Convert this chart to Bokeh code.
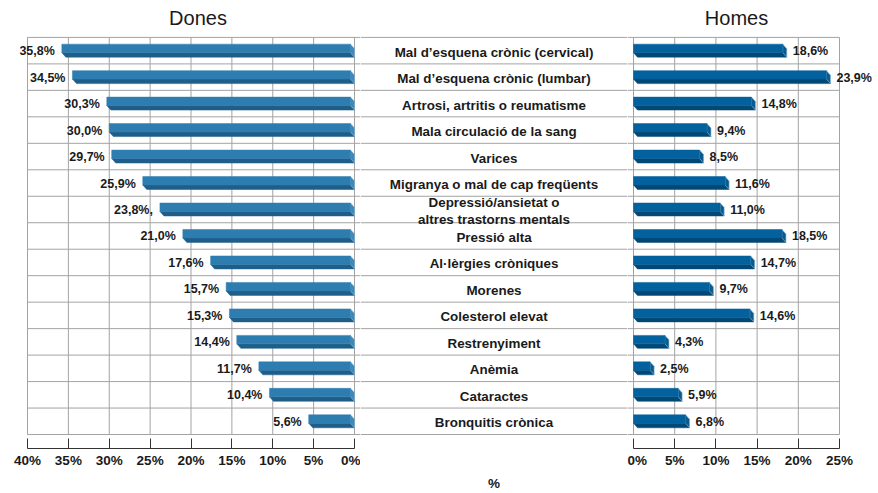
from bokeh.plotting import figure
from bokeh.models import Range1d, FixedTicker, PrintfTickFormatter
from bokeh.layouts import row
from bokeh.core.properties import value
from bokeh.embed import file_html
from bokeh.resources import INLINE

# ---------------- data ----------------
categories = [
    "Mal d’esquena crònic (cervical)",
    "Mal d’esquena crònic (lumbar)",
    "Artrosi, artritis o reumatisme",
    "Mala circulació de la sang",
    "Varices",
    "Migranya o mal de cap freqüents",
    "Depressió/ansietat o\naltres trastorns mentals",
    "Pressió alta",
    "Al·lèrgies cròniques",
    "Morenes",
    "Colesterol elevat",
    "Restrenyiment",
    "Anèmia",
    "Cataractes",
    "Bronquitis crònica",
]
dones = [35.8, 34.5, 30.3, 30.0, 29.7, 25.9, 23.8, 21.0, 17.6, 15.7, 15.3, 14.4, 11.7, 10.4, 5.6]
homes = [18.6, 23.9, 14.8, 9.4, 8.5, 11.6, 11.0, 18.5, 14.7, 9.7, 14.6, 4.3, 2.5, 5.9, 6.8]
dones_labels = ["35,8%", "34,5%", "30,3%", "30,0%", "29,7%", "25,9%", "23,8%,", "21,0%",
                "17,6%", "15,7%", "15,3%", "14,4%", "11,7%", "10,4%", "5,6%"]
homes_labels = ["18,6%", "23,9%", "14,8%", "9,4%", "8,5%", "11,6%", "11,0%", "18,5%",
                "14,7%", "9,7%", "14,6%", "4,3%", "2,5%", "5,9%", "6,8%"]
dones_ticks = [0, 5, 10, 15, 20, 25, 30, 35, 40]
homes_ticks = [0, 5, 10, 15, 20, 25]
title_left = "Dones"
title_right = "Homes"
axis_unit = "%"

# ---------------- style / geometry ----------------
FONT = "Liberation Sans"
TXT = "#1a1a1a"
GRID = "#a3a3a3"
ROW_PX = 26.533
UY = 1.0 / ROW_PX
H = 493
BOTTOM = 44
Y_TOP = -37 * UY                      # frame top (rows), row 0 starts 37px below
Y_BOT = Y_TOP + (H - BOTTOM) * UY     # frame bottom

n = len(categories)
centers = [i + 0.5 for i in range(n)]
bounds_rows = list(range(n + 1))


def base_fig(width, xr):
    p = figure(width=width, height=H, x_range=xr, y_range=Range1d(Y_BOT, Y_TOP),
               output_backend="svg", toolbar_location=None,
               x_axis_location="below", y_axis_location=None,
               min_border_left=0, min_border_right=0, min_border_top=0,
               min_border_bottom=BOTTOM)
    p.outline_line_color = None
    p.xgrid.visible = False
    p.ygrid.visible = False
    p.background_fill_color = "white"
    p.border_fill_color = "white"
    return p


def style_axis(p, ticks, bnds):
    ax = p.xaxis[0]
    ax.ticker = FixedTicker(ticks=ticks)
    ax.formatter = PrintfTickFormatter(format="%d%%")
    ax.bounds = bnds
    ax.major_tick_in = 10
    ax.major_tick_out = 0
    ax.minor_tick_line_color = None
    ax.axis_line_color = "#333333"
    ax.major_tick_line_color = "#333333"
    ax.major_label_text_font = FONT
    ax.major_label_text_font_style = "bold"
    ax.major_label_text_font_size = "13.5px"
    ax.major_label_text_color = TXT
    ax.major_label_standoff = 4


def panel(width, xr, kx, ticks, vals, labels, title, reverse, title_dx):
    ux = 1.0 / kx
    p = base_fig(width, xr)
    style_axis(p, ticks, (min(ticks), max(ticks)))
    vmax = max(ticks)
    edge = xr.end if reverse else xr.start
    # row separators
    p.segment(x0=[edge] * len(bounds_rows), x1=[vmax] * len(bounds_rows),
              y0=bounds_rows, y1=bounds_rows, line_color=GRID, line_width=1)
    # vertical grid
    p.segment(x0=ticks, x1=ticks, y0=[0] * len(ticks), y1=[n] * len(ticks),
              line_color=GRID, line_width=1)
    d = 4 * ux
    if reverse:
        face_c, bot_c, side_c = "#2E7DB0", "#1F5E88", "#3F88BA"
        f_l = vals
        f_r = [d] * n
        side_xs = [[d, 0, 0, d] for v in vals]
        bot_xs = [[v, d, 0, v - d] for v in vals]
        lab_x = [v + 7 * ux for v in vals]
        align = "right"
    else:
        face_c, bot_c, side_c = "#03619D", "#024874", "#0B5A8E"
        f_l = [0] * n
        f_r = [v - d for v in vals]
        side_xs = [[v - d, v, v, v - d] for v in vals]
        bot_xs = [[0, v - d, v, d] for v in vals]
        lab_x = [v + 6 * ux for v in vals]
        align = "left"
    side_ys = [[c - 6.5 * UY, c - 2 * UY, c + 6.5 * UY, c + 2 * UY] for c in centers]
    bot_ys = [[c + 2 * UY, c + 2 * UY, c + 6.5 * UY, c + 6.5 * UY] for c in centers]
    p.patches(xs=bot_xs, ys=bot_ys, fill_color=bot_c, line_color=bot_c, line_width=0.5)
    p.patches(xs=side_xs, ys=side_ys, fill_color=side_c, line_color="#7FB0D4", line_width=0.6)
    p.quad(left=f_l, right=f_r, top=[c - 6.5 * UY for c in centers],
           bottom=[c + 2 * UY for c in centers], fill_color=face_c, line_color=face_c,
           line_width=0.5)
    p.text(x=lab_x, y=[c + 0.5 * UY for c in centers], text=labels,
           text_align=align, text_baseline="middle", text_font=value(FONT),
           text_font_style="bold", text_font_size="12.5px", text_color=TXT)
    p.text(x=[vmax / 2 + title_dx * ux], y=[-19 * UY], text=[title], text_align="center",
           text_baseline="middle", text_font=value(FONT), text_font_size="20px",
           text_color=TXT)
    return p


KL = 327 / 40.0
KR = 206 / 25.0
WL, WM, WR = 360, 267, 251
xl0 = 40 + 27 / KL
xr_left = Range1d(xl0, xl0 - WL / KL)
xr0 = -6 / KR
xr_right = Range1d(xr0, xr0 + WR / KR)

pL = panel(WL, xr_left, KL, dones_ticks, dones, dones_labels, title_left, True, -7)
pR = panel(WR, xr_right, KR, homes_ticks, homes, homes_labels, title_right, False, 0)

pM = base_fig(WM, Range1d(0, 1))
axm = pM.xaxis[0]
axm.ticker = FixedTicker(ticks=[])
axm.axis_line_color = None
axm.major_tick_line_color = None
axm.minor_tick_line_color = None
axm.major_label_standoff = 0
axm.axis_label = axis_unit
axm.axis_label_standoff = 27
axm.axis_label_text_font = FONT
axm.axis_label_text_font_style = "bold"
axm.axis_label_text_font_size = "13.5px"
axm.axis_label_text_color = TXT
pM.segment(x0=[0] * len(bounds_rows), x1=[1] * len(bounds_rows), y0=bounds_rows,
           y1=bounds_rows, line_color=GRID, line_width=1)
pM.text(x=[0.5] * n, y=[c + 1.5 * UY for c in centers], text=categories,
        text_align="center", text_baseline="middle", text_font=value(FONT),
        text_font_style="bold", text_font_size="13.4px", text_color=TXT,
        text_line_height=1.15)

layout = row(pL, pM, pR)
open("out.html", "w").write(file_html(layout, INLINE))
